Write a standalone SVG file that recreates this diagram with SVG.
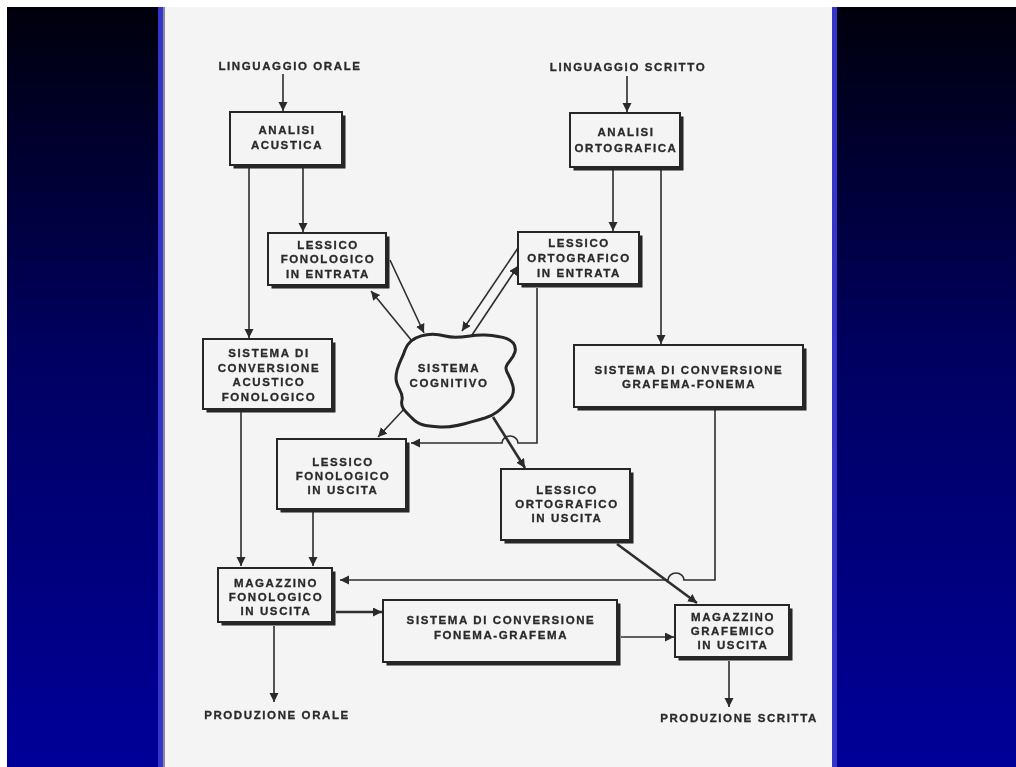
<svg xmlns="http://www.w3.org/2000/svg" width="1016" height="767" viewBox="0 0 1016 767">
<defs>
<linearGradient id="bg" x1="0" y1="0" x2="0" y2="1">
<stop offset="0" stop-color="#00000c"/>
<stop offset="0.45" stop-color="#000060"/>
<stop offset="1" stop-color="#000099"/>
</linearGradient>
<filter id="soft" x="-5%" y="-5%" width="110%" height="110%"><feGaussianBlur stdDeviation="0.6"/></filter>
<marker id="ah" markerUnits="userSpaceOnUse" markerWidth="10" markerHeight="10" refX="9" refY="4.5" orient="auto">
<path d="M0,0 L9,4.5 L0,9 Z" fill="#2a2a2a"/>
</marker>
<style>
.box{fill:#f4f4f4;stroke:#262626;stroke-width:2}
.sh{fill:#262626}
.t{font-family:"Liberation Sans",Arial,sans-serif;font-weight:bold;font-size:11.5px;letter-spacing:1.6px;fill:#2a2a2a;stroke:#2a2a2a;stroke-width:0.3;text-anchor:middle}
.c{fill:none;stroke:#2e2e2e;stroke-width:1.6}
.a{marker-end:url(#ah)}
.thick{stroke-width:2.6}
</style>
</defs>
<rect x="0" y="0" width="1016" height="767" fill="#ffffff"/>
<rect x="7" y="7" width="1009" height="760" fill="url(#bg)"/>
<rect x="158" y="7" width="6" height="760" fill="#3434c8"/>
<rect x="832" y="7" width="5" height="760" fill="#3434c8"/>
<rect x="163" y="7" width="669" height="760" fill="#f4f4f4"/>
<rect x="163" y="7" width="2" height="760" fill="#8a8a9a"/>
<g filter="url(#soft)">
<g id="connectors">
<path class="c a" d="M283,74 V111"/>
<path class="c a" d="M627,76 V112"/>
<path class="c a" d="M303,168 V232"/>
<path class="c a" d="M249,168 V338"/>
<path class="c a" d="M613,170 V231"/>
<path class="c a" d="M661,170 V344"/>
<path class="c a" d="M390,260 L424,333"/>
<path class="c a" d="M412,341 L371,291"/>
<path class="c a" d="M518,248 L462,331"/>
<path class="c a" d="M470,338 L518,266"/>
<path class="c a" d="M537,288 V443 H518 A8,7 0 0 0 502,443 H411"/>
<path class="c a" d="M405,408 L378,437"/>
<path class="c a thick" d="M493,417 L525,468"/>
<path class="c a" d="M715,410 V580 H684 A8,7 0 0 0 668,580 H340"/>
<path class="c a thick" d="M617,544 L697,603"/>
<path class="c a" d="M241,412 V566"/>
<path class="c a" d="M313,512 V566"/>
<path class="c a thick" d="M336,612 H382"/>
<path class="c a" d="M274,626 V702"/>
<path class="c a" d="M621,637 H674"/>
<path class="c a" d="M729,661 V707"/>
</g>
<g id="linguaggio-orale"><text class="t" x="290" y="70">LINGUAGGIO ORALE</text></g>
<g id="linguaggio-scritto"><text class="t" x="628" y="71">LINGUAGGIO SCRITTO</text></g>
<g id="produzione-orale"><text class="t" x="277" y="719">PRODUZIONE ORALE</text></g>
<g id="produzione-scritta"><text class="t" x="739" y="722">PRODUZIONE SCRITTA</text></g>
<g id="analisi-acustica">
<rect class="sh" x="233.5" y="115.5" width="112" height="53"/>
<rect class="box" x="230" y="112" width="112" height="53"/>
<text class="t" x="287" y="134">ANALISI</text>
<text class="t" x="287" y="149">ACUSTICA</text>
</g>
<g id="analisi-ortografica">
<rect class="sh" x="573.5" y="116.5" width="110" height="54"/>
<rect class="box" x="570" y="113" width="110" height="54"/>
<text class="t" x="626" y="136">ANALISI</text>
<text class="t" x="626" y="152">ORTOGRAFICA</text>
</g>
<g id="lessico-fonologico-entrata">
<rect class="sh" x="271.5" y="236.5" width="118" height="52"/>
<rect class="box" x="268" y="233" width="118" height="52"/>
<text class="t" x="328" y="249">LESSICO</text>
<text class="t" x="328" y="263">FONOLOGICO</text>
<text class="t" x="328" y="278">IN ENTRATA</text>
</g>
<g id="lessico-ortografico-entrata">
<rect class="sh" x="521.5" y="235.5" width="121" height="52"/>
<rect class="box" x="518" y="232" width="121" height="52"/>
<text class="t" x="579" y="247">LESSICO</text>
<text class="t" x="579" y="262">ORTOGRAFICO</text>
<text class="t" x="579" y="277">IN ENTRATA</text>
</g>
<g id="sistema-cognitivo">
<path d="M405,350 C410,335 430,332 445,336 C460,340 470,334 485,335 C500,336 518,338 515,352 C512,362 503,364 507,372 C512,382 518,392 508,402 C500,410 495,415 485,418 C470,422 455,428 440,427 C425,426 418,425 412,418 C406,412 400,408 402,400 C404,392 396,388 396,378 C396,366 402,360 405,350 Z" fill="#f4f4f4" stroke="#262626" stroke-width="3"/>
<text class="t" x="449" y="372">SISTEMA</text>
<text class="t" x="449" y="387">COGNITIVO</text>
</g>
<g id="sistema-conversione-acustico-fonologico">
<rect class="sh" x="206.5" y="342.5" width="129" height="70"/>
<rect class="box" x="203" y="339" width="129" height="70"/>
<text class="t" x="269" y="357">SISTEMA DI</text>
<text class="t" x="269" y="372">CONVERSIONE</text>
<text class="t" x="269" y="386">ACUSTICO</text>
<text class="t" x="269" y="401">FONOLOGICO</text>
</g>
<g id="sistema-conversione-grafema-fonema">
<rect class="sh" x="577.5" y="348.5" width="229" height="62"/>
<rect class="box" x="574" y="345" width="229" height="62"/>
<text class="t" x="689" y="374">SISTEMA DI CONVERSIONE</text>
<text class="t" x="689" y="388">GRAFEMA-FONEMA</text>
</g>
<g id="lessico-fonologico-uscita">
<rect class="sh" x="280.5" y="442.5" width="129" height="70"/>
<rect class="box" x="277" y="439" width="129" height="70"/>
<text class="t" x="343" y="466">LESSICO</text>
<text class="t" x="343" y="480">FONOLOGICO</text>
<text class="t" x="343" y="494">IN USCITA</text>
</g>
<g id="lessico-ortografico-uscita">
<rect class="sh" x="504.5" y="472.5" width="129" height="71"/>
<rect class="box" x="501" y="469" width="129" height="71"/>
<text class="t" x="567" y="494">LESSICO</text>
<text class="t" x="567" y="508">ORTOGRAFICO</text>
<text class="t" x="567" y="522">IN USCITA</text>
</g>
<g id="magazzino-fonologico-uscita">
<rect class="sh" x="221.5" y="571.5" width="114" height="54"/>
<rect class="box" x="218" y="568" width="114" height="54" stroke-width="2.6"/>
<text class="t" x="276" y="587">MAGAZZINO</text>
<text class="t" x="276" y="601">FONOLOGICO</text>
<text class="t" x="276" y="615">IN USCITA</text>
</g>
<g id="sistema-conversione-fonema-grafema">
<rect class="sh" x="386.5" y="603.5" width="234" height="62"/>
<rect class="box" x="383" y="600" width="234" height="62"/>
<text class="t" x="501" y="624">SISTEMA DI CONVERSIONE</text>
<text class="t" x="501" y="639">FONEMA-GRAFEMA</text>
</g>
<g id="magazzino-grafemico-uscita">
<rect class="sh" x="678.5" y="608.5" width="114" height="52"/>
<rect class="box" x="675" y="605" width="114" height="52"/>
<text class="t" x="733" y="621">MAGAZZINO</text>
<text class="t" x="733" y="635">GRAFEMICO</text>
<text class="t" x="733" y="649">IN USCITA</text>
</g>
</g>
</svg>
